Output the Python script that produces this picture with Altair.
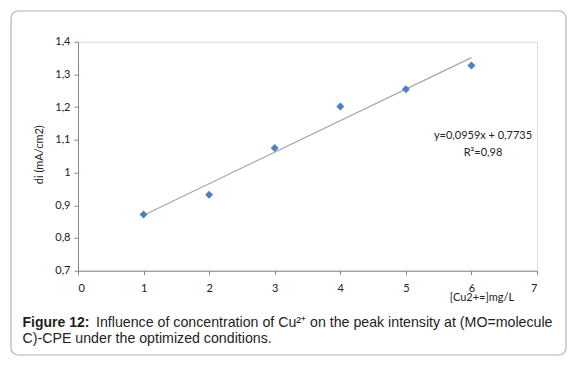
import altair as alt
import pandas as pd

conc = [1, 2, 3, 4, 5, 6]
di = [0.872, 0.932, 1.075, 1.202, 1.255, 1.327]

x_ticks = [0, 1, 2, 3, 4, 5, 6, 7]
y_ticks = [0.7, 0.8, 0.9, 1.0, 1.1, 1.2, 1.3, 1.4]

y_title = "di (mA/cm2)"
x_title = "[Cu2+=]mg/L"
eq_lines = ["y=0,0959x + 0,7735", "R²=0,98"]
cap_bold = "Figure 12:"
cap_line1 = "Influence of concentration of Cu²⁺ on the peak intensity at (MO=molecule"
cap_line2 = "C)-CPE under the optimized conditions."

df = pd.DataFrame({"x": conc, "y": di})

W, H = 459, 229
LBL_FONT = "Lato"

xs = alt.Scale(domain=[0, 7], nice=False)
ys = alt.Scale(domain=[0.7, 1.4], nice=False, zero=False)

x_axis = alt.Axis(
    values=x_ticks, title=None, grid=False, domainColor="#868686", tickColor="#868686",
    tickSize=4, labelPadding=8, labelFont=LBL_FONT, labelFontSize=11, labelColor="#222222",
    labelOverlap=False, format="d")
y_axis = alt.Axis(
    values=y_ticks, tickCount=8, title=None, grid=False, domainColor="#868686", tickColor="#868686",
    tickSize=4, labelPadding=4, labelFont=LBL_FONT, labelFontSize=11, labelColor="#222222",
    labelOverlap=False, labelBound=False, labelFlush=False,
    labelExpr="abs(datum.value - 1) < 0.001 ? '1' : replace(format(datum.value, '.1f'), '.', ',')")

base = alt.Chart(df)

points = base.mark_point(shape="diamond", filled=True, size=64, color="#4F81BD", opacity=1).encode(
    x=alt.X("x:Q", scale=xs, axis=x_axis),
    y=alt.Y("y:Q", scale=ys, axis=y_axis),
)

trend = base.transform_regression("x", "y").mark_line(color="#a6a6a6", strokeWidth=1.2).encode(
    x=alt.X("x:Q", scale=xs, axis=x_axis), y=alt.Y("y:Q", scale=ys, axis=y_axis)
)

def txt(text, x, y, **kw):
    return alt.Chart(pd.DataFrame({"t": [text]})).mark_text(**kw).encode(
        text="t:N", x=alt.value(x), y=alt.value(y))

border = alt.Chart(pd.DataFrame({"a": [0]})).mark_rect(
    fill=None, stroke="#b4b4b4", strokeWidth=1.2, cornerRadius=7).encode(
    x=alt.value(-67), x2=alt.value(488), y=alt.value(-30.7), y2=alt.value(313.3))

ytitle = txt(y_title, -38, 113, angle=270, font=LBL_FONT, fontSize=11, color="#222222", align="center", baseline="middle")
eq1 = txt(eq_lines[0], 405, 94.5, font=LBL_FONT, fontSize=11, color="#222222", align="center", baseline="middle")
eq2 = txt(eq_lines[1], 405, 111.5, font=LBL_FONT, fontSize=11, color="#222222", align="center", baseline="middle")
xtitle = txt(x_title, 404, 256, font=LBL_FONT, fontSize=11, color="#222222", align="center", baseline="middle")
capb = txt(cap_bold, -55.5, 281, font="Liberation Sans", fontSize=14, fontWeight="bold", color="#231f20", align="left", baseline="middle")
cap1 = txt(cap_line1, 18, 281, font="Liberation Sans", fontSize=14.2, color="#231f20", align="left", baseline="middle")
cap2 = txt(cap_line2, -55.5, 297.6, font="Liberation Sans", fontSize=14.2, color="#231f20", align="left", baseline="middle")

chart = alt.layer(border, trend, points, ytitle, eq1, eq2, xtitle, capb, cap1, cap2).properties(
    width=W, height=H,
    autosize=alt.AutoSizeParams(type="none"),
    padding={"left": 70, "top": 33.7, "right": 31, "bottom": 85},
).configure_view(stroke=None).configure(background="white")

chart.save("out.html", embed_options={"renderer": "svg", "actions": False})
